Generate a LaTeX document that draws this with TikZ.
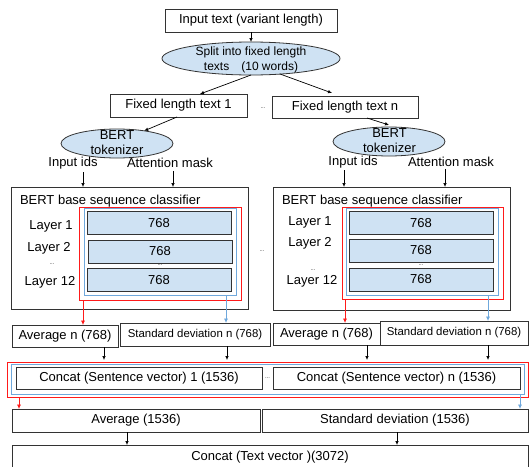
\documentclass[tikz,border=0pt]{standalone}
\usepackage{fontspec}
\setmainfont{Liberation Sans}
\usetikzlibrary{arrows.meta,shapes.geometric}
\definecolor{lb}{HTML}{CFE2F3}
\definecolor{rd}{HTML}{FF1A1A}
\definecolor{bl}{HTML}{6FA8DC}
\definecolor{bd}{HTML}{333333}
\begin{document}
\begin{tikzpicture}[x=1pt,y=-1pt,
  every node/.style={inner sep=0pt, outer sep=0pt},
  fa/.style={font=\fontsize{13}{15}\selectfont},
  fb/.style={font=\fontsize{12}{15}\selectfont},
  fc/.style={font=\fontsize{11.4}{13}\selectfont},
  boxa/.style={draw=bd, line width=0.8pt, fa},
  layerbox/.style={draw=bd, line width=1pt, fill=lb, fa, minimum width=144pt, minimum height=23pt},
  ell/.style={ellipse, draw=bd, line width=0.8pt, fill=lb},
  redbox/.style={draw=rd, line width=1pt},
  bluebox/.style={draw=bl, line width=1pt},
  arr/.style={-{Latex[length=4pt,width=3.6pt]}, line width=0.7pt, draw=black},
  rarr/.style={arr, draw=rd, -{Latex[length=4.5pt,width=4pt,fill=rd]}},
  barr/.style={arr, draw=bl, -{Latex[length=4.5pt,width=4pt,fill=bl]}},
  dts/.style={font=\fontsize{6}{7}\selectfont, text=bd}
]
\useasboundingbox (0,0) rectangle (529,466);
\begin{scope}
\clip (0,0) rectangle (529,466);

% top
\node[boxa, minimum width=172pt, minimum height=23pt] (input) at (251,20.5) {Input text (variant length)};
\node[ell, minimum width=178pt, minimum height=33pt] (split) at (251,58.5) {};
\node[fb, align=center] (splitt) at (251,59.5) {Split into fixed length\\texts\hspace{12pt}(10 words)};
\draw[arr] (input.south) -- (split.north);

\node[boxa, minimum width=137pt, minimum height=23pt] (fixed1) at (178.5,105.5) {Fixed length text 1};
\node[boxa, minimum width=146pt, minimum height=22pt] (fixedn) at (345,107) {Fixed length text n};
\node[dts] (d1) at (263,108) {...};
\draw[arr] (split.south) -- ([xshift=21.5pt]fixed1.north);
\draw[arr] ([xshift=29pt,yshift=1pt]split.south) -- ([xshift=-13pt,yshift=3pt]fixedn.north);

% tokenizers
\node[ell, minimum width=112pt, minimum height=29pt] (tok1) at (117,143.5) {};
\node[fa, align=center] (tok1t) at (117,143) {BERT\\tokenizer};
\node[ell, minimum width=112pt, minimum height=29pt] (tokn) at (389,141.5) {};
\node[fa, align=center] (toknt) at (389.5,141) {BERT\\tokenizer};
\draw[arr] ([xshift=-1.5pt]fixed1.south) -- (tok1.25);
\draw[arr] ([xshift=22pt]fixedn.south) -- ([yshift=2pt]tokn.north);

\node[fa] (ids1) at (73,163) {Input ids};
\node[fa] (att1) at (170,163) {Attention mask};
\node[fa] (idsn) at (353,162) {Input ids};
\node[fa] (attn) at (451,162) {Attention mask};

% BERT boxes
\node[draw=bd, line width=0.8pt, minimum width=237pt, minimum height=122pt] (bert1) at (129.5,248) {};
\node[draw=bd, line width=0.8pt, minimum width=237pt, minimum height=123pt] (bertn) at (391.5,248.5) {};
\node[fa, anchor=west] (b1t) at (20,201) {BERT base sequence classifier};
\node[fa, anchor=west] (bnt) at (282,201) {BERT base sequence classifier};

\draw[arr] ([xshift=10pt,yshift=-3pt]ids1.south) -- ([xshift=10pt]ids1.south |- bert1.north);
\draw[arr] ([xshift=3pt,yshift=-3pt]att1.south) -- ([xshift=3pt]att1.south |- bert1.north);
\draw[arr] ([xshift=-9pt,yshift=-2pt]idsn.south) -- ([xshift=-9pt]idsn.south |- bertn.north);
\draw[arr] ([xshift=-6pt,yshift=-2pt]attn.south) -- ([xshift=-6pt]attn.south |- bertn.north);

\node[redbox, minimum width=162pt, minimum height=93pt] (red1) at (160,253.5) {};
\node[bluebox, minimum width=152pt, minimum height=87pt] (blue1) at (160,251.5) {};
\node[layerbox] (l11) at (159,223) {768};
\node[layerbox] (l12) at (160,251.5) {768};
\node[layerbox] (l13) at (159,280) {768};
\node[dts] (ld1) at (160,265) {...};
\node[fa] (lab11) at (51,226) {Layer 1};
\node[fa] (lab12) at (49,248) {Layer 2};
\node[dts] (lab1d) at (52,264) {...};
\node[fa] (lab13) at (50,282) {Layer 12};

\node[redbox, minimum width=161pt, minimum height=92pt] (redn) at (422.5,253) {};
\node[bluebox, minimum width=152pt, minimum height=87pt] (bluen) at (422,251.5) {};
\node[layerbox] (ln1) at (421,223) {768};
\node[layerbox] (ln2) at (421,250.5) {768};
\node[layerbox] (ln3) at (421,279.5) {768};
\node[dts] (ldn) at (421,265) {...};
\node[fa] (labn1) at (310,222) {Layer 1};
\node[fa] (labn2) at (310,243) {Layer 2};
\node[dts] (labnd) at (313,270) {...};
\node[fa] (labn3) at (312,281) {Layer 12};
\node[dts] (d2) at (262,251) {...};

% average / std n
\node[boxa, minimum width=106pt, minimum height=22pt] (avg1) at (65,336) {Average n (768)};
\node[draw=bd, line width=0.8pt, fc, minimum width=150pt, minimum height=23pt] (std1) at (195,334.5) {Standard deviation n (768)};
\node[boxa, minimum width=107pt, minimum height=22pt] (avgn) at (326.5,334) {Average n (768)};
\node[draw=bd, line width=0.8pt, fc, minimum width=148pt, minimum height=24pt] (stdn) at (454,333) {Standard deviation n (768)};

\draw[rarr] ([xshift=-77pt]red1.south) -- ([xshift=-77pt]red1.south |- avg1.north);
\draw[barr] ([xshift=66pt]blue1.south) -- ([xshift=66pt]blue1.south |- std1.north);
\draw[rarr] ([xshift=-77.5pt]redn.south) -- ([xshift=-77.5pt]redn.south |- avgn.north);
\draw[barr] ([xshift=66pt]bluen.south) -- ([xshift=66pt]bluen.south |- stdn.north);

% concat row
\node[redbox, minimum width=521pt, minimum height=35pt] (credo) at (267.5,379.5) {};
\node[bluebox, minimum width=513pt, minimum height=30pt] (cblue) at (267.5,379) {};
\node[boxa, minimum width=246pt, minimum height=22pt] (cat1) at (139,378) {Concat (Sentence vector) 1 (1536)};
\node[boxa, minimum width=247pt, minimum height=22pt] (catn) at (396.5,378) {Concat (Sentence vector) n (1536)};
\node[dts] (d3) at (267.5,378) {...};

\draw[arr] ([xshift=39pt]avg1.south) -- ([xshift=39pt,yshift=2pt]avg1.south |- credo.north);
\draw[arr] ([xshift=32pt]std1.south) -- ([xshift=32pt,yshift=2pt]std1.south |- credo.north);
\draw[arr] ([xshift=40.5pt]avgn.south) -- ([xshift=40.5pt,yshift=2pt]avgn.south |- credo.north);
\draw[arr] ([xshift=34pt]stdn.south) -- ([xshift=34pt,yshift=2pt]stdn.south |- credo.north);

% final
\node[boxa, minimum width=248pt, minimum height=23pt] (avg) at (136,420.5) {Average (1536)};
\node[boxa, minimum width=266pt, minimum height=23pt] (std) at (395,420.5) {Standard deviation (1536)};
\draw[rarr] ([xshift=12pt]credo.south west) -- ([xshift=12pt]credo.south west |- avg.north);
\draw[barr] ([xshift=-4pt]cblue.south east) -- ([xshift=-4pt]cblue.south east |- std.north);

\node[boxa, minimum width=516pt, minimum height=26pt] (vec) at (270,458) {};
\node[fa] (vect) at (270,457) {Concat (Text vector )(3072)};
\draw[arr] ([xshift=-9pt]avg.south) -- ([xshift=-9pt]avg.south |- vec.north);
\draw[arr] ([xshift=2pt]std.south) -- ([xshift=2pt]std.south |- vec.north);
\end{scope}
\end{tikzpicture}
\end{document}
